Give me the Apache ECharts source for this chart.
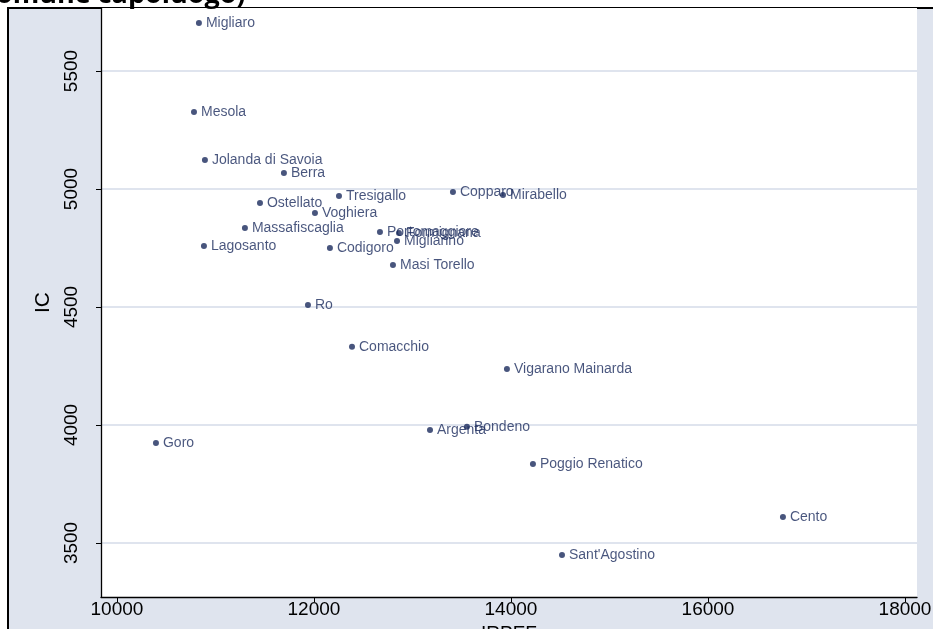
<!DOCTYPE html>
<html>
<head>
<meta charset="utf-8">
<title>IC vs IRPEF</title>
<script src="https://cdn.jsdelivr.net/npm/echarts@6/dist/echarts.min.js"></script>
<style>html,body{margin:0;padding:0;background:#fff}#main{width:933px;height:629px}</style>
</head>
<body>
<div id="main"></div>
<script>
// comuni, IRPEF (x) e IC (y)
var comuni = ['Migliaro','Mesola','Jolanda di Savoia','Berra','Ostellato','Tresigallo','Voghiera',
    'Massafiscaglia','Lagosanto','Codigoro','Portomaggiore','Formignana','Migliarino','Masi Torello',
    'Copparo','Mirabello','Ro','Comacchio','Vigarano Mainarda','Argenta','Bondeno','Goro',
    'Poggio Renatico','Cento',"Sant'Agostino"];
var irpef = [10832,10782,10893,11695,11452,12254,12010,11299,10883,12162,12670,12863,12843,12802,
    13411,13919,11939,12386,13959,13178,13553,10396,14223,16761,14518];
var ic = [5703,5326,5123,5068,4941,4970,4898,4835,4758,4750,4818,4814,4780,4678,
    4987,4975,4508,4331,4237,3979,3992,3924,3835,3610,3449];
var xTicks = [10000,12000,14000,16000,18000];
var yTicks = [3500,4000,4500,5000,5500];

var punti = comuni.map(function(n, i){ return {name: n, value: [irpef[i], ic[i]]}; });

var chart = echarts.init(document.getElementById('main'));
var txt = '#1a2b5c';
var plain = function(v){ return String(v); };
chart.setOption({
    animation: false,
    backgroundColor: '#fff',
    graphic: [
        {type: 'rect', z: -10, shape: {x: 8, y: 8, width: 940, height: 640},
         style: {fill: '#dfe4ee', stroke: '#000', lineWidth: 2}},
        {type: 'text', left: -4, top: -18, z: 10,
         style: {text: 'omune capoluogo)', font: 'bold 27px "Open Sans", sans-serif', fill: '#000'}}
    ],
    grid: {left: 101, right: 16, top: 8, bottom: 32, show: true, backgroundColor: '#fff',
        borderWidth: 0, outerBoundsMode: 'none', containLabel: false},
    xAxis: {
        type: 'value', min: 9838, max: 18122, name: 'IRPEF', nameLocation: 'middle', nameGap: 24,
        nameTextStyle: {fontFamily: 'Liberation Sans Narrow, Liberation Sans', fontSize: 19, color: '#000'},
        axisLine: {onZero: false, lineStyle: {color: '#000', width: 1.3}},
        axisTick: {show: true, length: 5, lineStyle: {color: '#000'}, customValues: xTicks},
        axisLabel: {customValues: xTicks, fontSize: 19, color: '#000', margin: 3, formatter: plain,
            fontFamily: 'Liberation Sans Narrow, Liberation Sans'},
        splitLine: {show: false}
    },
    yAxis: {
        type: 'value', min: 3271, max: 5767, name: 'IC', nameLocation: 'middle', nameGap: 46,
        nameRotate: 90,
        nameTextStyle: {fontFamily: 'Liberation Sans', fontSize: 21, color: '#000'},
        axisLine: {show: true, onZero: false, lineStyle: {color: '#000', width: 1.3}},
        axisTick: {show: true, length: 5, lineStyle: {color: '#000'}, customValues: yTicks},
        axisLabel: {customValues: yTicks, rotate: 90, fontSize: 19, color: '#000', margin: 20,
            formatter: plain, fontFamily: 'Liberation Sans'},
        splitLine: {show: true, customValues: yTicks, lineStyle: {color: '#dfe4ee', width: 2}}
    },
    series: [{
        type: 'scatter', data: punti, symbolSize: 6,
        itemStyle: {color: txt},
        label: {show: true, position: 'right', distance: 4, formatter: '{b}',
            color: txt, fontSize: 14, fontFamily: 'Liberation Sans'},
        labelLayout: {hideOverlap: false}
    }]
});
</script>
</body>
</html>
